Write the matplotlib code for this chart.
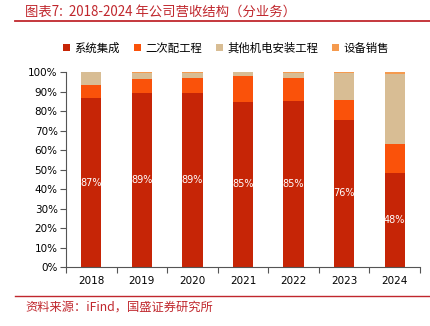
import matplotlib
matplotlib.use("Agg")
import matplotlib.pyplot as plt
import numpy as np
from matplotlib.lines import Line2D
from matplotlib.patches import Patch

plt.rcParams['font.family'] = ['Noto Sans CJK SC', 'DejaVu Sans']

years = ['2018', '2019', '2020', '2021', '2022', '2023', '2024']
series_names = ['系统集成', '二次配工程', '其他机电安装工程', '设备销售']
system_integration = [86.7, 89.0, 89.0, 84.8, 84.9, 75.6, 48.5]
secondary_wiring = [6.5, 7.3, 7.9, 13.0, 12.0, 10.1, 14.7]
other_mep = [6.8, 3.4, 2.8, 2.2, 2.8, 13.9, 35.6]
equipment_sales = [0.0, 0.3, 0.3, 0.0, 0.3, 0.4, 1.2]
colors = ['#C62506', '#FA520A', '#D8BD94', '#F59A4E']

fig = plt.figure(figsize=(4.31, 3.26), dpi=100)
ax = fig.add_axes([66/431, 1-267.3/326, (420-66)/431, (267.3-72)/326])

x = np.arange(len(years))
data = [system_integration, secondary_wiring, other_mep, equipment_sales]
bottom = np.zeros(len(years))
for vals, c in zip(data, colors):
    v = np.array(vals) / 100.0
    ax.bar(x, v, 0.4, bottom=bottom, color=c, edgecolor='none')
    bottom += v

for xi, v in zip(x, system_integration):
    ax.text(xi, v / 200.0, f'{round(v):.0f}%', color='white', ha='center', va='center',
            fontsize=7, family='DejaVu Sans')

ax.set_xlim(-0.5, len(years) - 0.5)
ax.set_ylim(0, 1.0)
ax.set_yticks(np.arange(0, 1.01, 0.1))
ax.set_yticklabels([f'{int(round(t*100))}%' for t in np.arange(0, 1.01, 0.1)],
                   fontsize=7.5, family='DejaVu Sans')
ax.set_xticks(x)
ax.set_xticklabels(years, fontsize=7.5, family='DejaVu Sans')
ax.set_xticks(np.arange(-0.5, len(years), 1), minor=True)
ax.tick_params(axis='x', which='major', length=0, pad=6)
ax.tick_params(axis='x', which='minor', length=4, color='#555555', width=0.8, direction='out')
ax.tick_params(axis='y', length=4, color='#555555', width=0.8, pad=2)
for s in ['top', 'right']:
    ax.spines[s].set_visible(False)
ax.spines['left'].set_color('#555555')
ax.spines['bottom'].set_color('#555555')
ax.spines['left'].set_linewidth(0.8)
ax.spines['bottom'].set_linewidth(0.8)

handles = [Patch(facecolor=c, edgecolor='none') for c in colors]
fig.legend(handles, series_names, loc='center', bbox_to_anchor=(226/431, 1-48/326), ncol=4,
           frameon=False, fontsize=8.2, handlelength=0.6, handleheight=0.6,
           handletextpad=0.4, columnspacing=1.2)

red = '#C0272D'
fig.text(25/431, 1-12/326, '图表7:  2018-2024 年公司营收结构（分业务）', color=red,
         fontsize=9.6, fontstyle='italic', ha='left', va='center')
fig.add_artist(Line2D([15/431, 430/431], [1-21/326, 1-21/326], color=red, lw=1.3))
fig.add_artist(Line2D([15/431, 430/431], [1-296/326, 1-296/326], color=red, lw=1.0))
fig.text(25/431, 1-307/326, '资料来源：iFind，国盛证券研究所', color=red,
         fontsize=8.8, fontstyle='italic', ha='left', va='center')

fig.savefig('out.png', dpi=100)
